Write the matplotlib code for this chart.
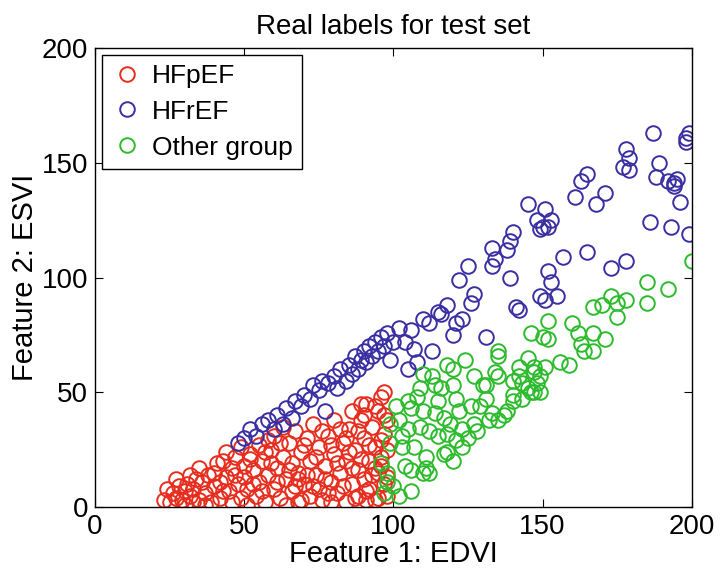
import matplotlib
matplotlib.use("Agg")
import matplotlib.pyplot as plt

plt.rcParams['font.family'] = ['Liberation Sans', 'DejaVu Sans']

# HFpEF (red)
hfpef_x = [23, 25, 26, 27, 28, 29, 30, 31, 32, 33, 34, 35, 36, 37, 38, 39, 40, 41, 42, 43,
           44, 45, 46, 46, 47, 48, 49, 50, 50, 51, 52, 53, 54, 55, 55, 56, 57, 58, 59, 60,
           60, 61, 62, 63, 64, 65, 66, 66, 67, 68, 68, 69, 70, 71, 72, 72, 73, 74, 75, 75,
           76, 77, 78, 79, 80, 80, 81, 82, 83, 84, 84, 85, 86, 86, 87, 88, 88, 89, 90, 90,
           91, 92, 92, 93, 94, 94, 95, 95, 96, 96, 97, 97, 98, 98, 97,
           24, 27, 30, 32, 35, 37, 40, 42, 44, 47, 49, 51, 53, 56, 57, 59, 61, 62, 64, 65,
           67, 69, 70, 71, 73, 74, 76, 77, 79, 79, 81, 82, 83, 85, 86, 87, 88, 89, 90, 91,
           92, 93, 94, 95, 96, 96, 97, 98, 98, 63,
           33, 43, 52, 58, 68, 78, 84, 91, 94, 89]
hfpef_y = [3, 2, 6, 4, 9, 3, 7, 10, 5, 8, 12, 3, 11, 6, 14, 2, 9, 19, 4, 20,
           13, 7, 17, 2, 22, 10, 4, 18, 13, 8, 23, 16, 5, 27, 11, 20, 2, 14, 25, 8,
           31, 17, 4, 22, 12, 28, 7, 19, 33, 2, 15, 24, 10, 30, 5, 20, 36, 14, 26, 8,
           3, 18, 31, 11, 23, 38, 6, 15, 28, 2, 20, 34, 10, 42, 25, 16, 5, 38, 30, 12,
           45, 20, 8, 35, 26, 3, 15, 42, 48, 22, 10, 32, 5, 38, 50,
           8, 12, 1, 14, 17, 1, 15, 11, 24, 14, 26, 1, 10, 7, 24, 19, 11, 28, 1, 16,
           9, 3, 27, 14, 9, 22, 33, 12, 27, 2, 19, 34, 9, 24, 17, 4, 33, 21, 40, 7,
           27, 14, 44, 4, 29, 18, 40, 13, 25, 35,
           2, 7, 21, 29, 12, 6, 30, 3, 17, 45]

# HFrEF (blue)
hfref_x = [48, 50, 52, 54, 56, 58, 60, 61, 63, 64, 66, 67, 69, 70, 72, 73, 75, 76, 77, 78,
           80, 81, 82, 84, 85, 86, 87, 88, 89, 90, 91, 92, 93, 94, 95, 96, 97, 98, 99, 100,
           102, 104, 105, 106, 107, 108, 110, 112, 113, 115, 116, 118, 120, 121, 122, 123,
           125, 126, 127, 131, 133, 133, 134, 138, 139, 139, 140, 141, 142, 145, 148, 149,
           150, 149, 151, 151, 152, 152, 153, 153, 155, 157, 161, 163, 165, 165, 168, 171,
           173, 177, 178, 178, 179, 179, 186, 187, 189, 188, 192, 193, 194, 194, 195, 196,
           198, 198, 199, 199]
hfref_y = [28, 30, 34, 31, 36, 38, 34, 40, 36, 43, 39, 46, 44, 49, 47, 53, 51, 55, 42, 54,
           57, 52, 60, 55, 62, 58, 66, 60, 64, 68, 63, 70, 66, 72, 68, 74, 70, 76, 64, 72,
           78, 72, 60, 77, 69, 63, 82, 80, 68, 85, 84, 88, 75, 80, 99, 82,
           105, 89, 93, 74, 113, 105, 108, 112, 116, 100, 120, 87, 86, 132, 125, 121,
           122, 92, 130, 90, 122, 103, 125, 98, 92, 109, 135, 142, 145, 111, 132, 137,
           104, 148, 107, 156, 152, 147, 124, 163, 150, 144, 142, 122, 141, 140, 143, 133,
           161, 159, 163, 119]

# Other group (green)
other_x = [96, 97, 98, 98, 99, 99, 100, 101, 102, 102, 103, 104, 105, 105, 106, 106, 106, 107,
           109, 109, 110, 110, 110, 111, 112, 112, 113, 114, 114, 115, 116, 117, 117, 118,
           118, 118, 120, 120, 120, 121, 121, 122, 123, 123, 124, 125, 127, 127, 129, 130,
           131, 132, 133, 134, 135, 135, 135, 135, 137, 140, 140, 140, 142, 142, 143, 145,
           145, 146, 146, 147, 147, 148, 149, 149, 150, 152, 152, 151, 147, 156, 159, 160,
           162, 163, 164, 167, 167, 167, 170, 171, 173, 175, 175, 178, 185, 185, 192, 200,
           128, 138, 143, 103, 108, 111, 115, 119, 126, 131]
other_y = [19, 6, 15, 11, 28, 36, 9, 44, 38, 5, 26, 18, 46, 34, 16, 7, 43, 26,
           52, 35, 58, 42, 15, 17, 33, 15, 57, 53, 41, 31, 52, 39, 23, 62,
           32, 24, 53, 60, 20, 47, 29, 42, 26, 34, 64, 30, 57, 36, 44, 53,
           53, 38, 41, 59, 68, 66, 57, 38, 40, 49, 55, 46, 57, 61, 54, 65,
           52, 76, 50, 59, 50, 54, 57, 50, 74, 81, 73, 61, 61, 63, 62, 80,
           76, 71, 68, 68, 76, 87, 88, 73, 92, 83, 89, 90, 98, 89, 95, 107,
           33, 42, 47, 31, 48, 22, 46, 36, 44, 47]

fig = plt.figure(figsize=(7.22, 5.77), dpi=100)
ax = fig.add_axes([0.1316, 0.1213, 0.8264, 0.7955])

mk = dict(marker='o', linestyle='none', markersize=10.5, markerfacecolor='none',
          markeredgewidth=1.4)
ax.plot(hfpef_x, hfpef_y, markeredgecolor='#e62d1e', label='HFpEF', **mk)
ax.plot(hfref_x, hfref_y, markeredgecolor='#3a2fa2', label='HFrEF', **mk)
ax.plot(other_x, other_y, markeredgecolor='#2dbb2d', label='Other group', **mk)

ax.set_xlim(0, 200)
ax.set_ylim(0, 200)
ax.set_xticks([0, 50, 100, 150, 200])
ax.set_yticks([0, 50, 100, 150, 200])
ax.tick_params(direction='in', top=True, right=True, length=6, labelsize=20, pad=5)
for s in ax.spines.values():
    s.set_linewidth(1.0)

ax.set_title('Real labels for test set', fontsize=20, pad=10)
ax.set_xlabel('Feature 1: EDVI', fontsize=21, labelpad=0)
ax.set_ylabel('Feature 2: ESVI', fontsize=21, labelpad=2)

leg = ax.legend(loc='upper left', fontsize=19, fancybox=False, edgecolor='black',
                framealpha=1, borderaxespad=0.25, handletextpad=0.35, handlelength=1.2,
                borderpad=0.35, labelspacing=0.45)
leg.get_frame().set_linewidth(1.0)

fig.savefig('out.png', dpi=100)
